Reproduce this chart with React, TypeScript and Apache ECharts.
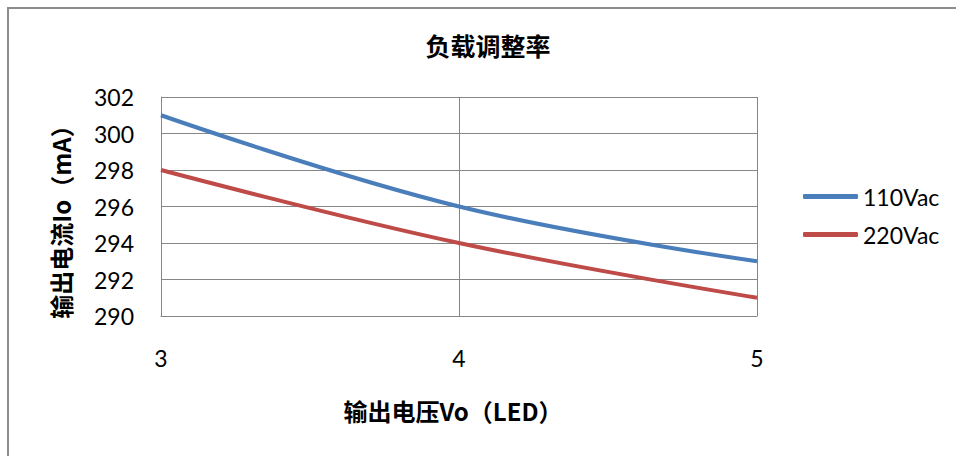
import React, { useEffect, useRef } from "react";
import * as echarts from "echarts";

const xValues = [3, 4, 5];
const seriesNames = ["110Vac", "220Vac"];
const values110 = [301, 296, 293];
const values220 = [298, 294, 291];
const colors = ["#4a7ebb", "#be4b48"];
const titleText = "负载调整率";
const xName = "输出电压Vo（LED）";
const yName = "输出电流Io（mA）";

export default function App() {
  const ref = useRef<HTMLDivElement>(null);
  useEffect(() => {
    const chart = echarts.init(ref.current!, null, { renderer: "svg" });
    const font = "Lato, 'Noto Sans CJK SC', sans-serif";
    const cjk = "'Noto Sans CJK SC', sans-serif";
    const toPairs = (ys: number[]) => xValues.map((x, i) => [x, ys[i]]);
    const lineSeries = (name: string, ys: number[], color: string) => ({
      name,
      type: "line",
      data: toPairs(ys),
      smooth: 0.4,
      showSymbol: false,
      symbol: "none",
      lineStyle: { color, width: 4 },
      itemStyle: { color },
    });
    chart.setOption({
      animation: false,
      backgroundColor: "#ffffff",
      graphic: [
        {
          type: "rect",
          shape: { x: 8, y: 8, width: 1000, height: 500 },
          style: { fill: "none", stroke: "#8c8c8c", lineWidth: 2 },
          silent: true,
        },
        {
          type: "text",
          x: 488,
          y: 45,
          style: {
            text: titleText,
            font: `bold 25px ${cjk}`,
            fill: "#000",
            align: "center",
            verticalAlign: "middle",
          },
        },
        {
          type: "text",
          x: 453,
          y: 410,
          style: {
            text: xName,
            font: `bold 24px ${cjk}`,
            fill: "#000",
            align: "center",
            verticalAlign: "middle",
          },
        },
        {
          type: "text",
          x: 60,
          y: 216,
          rotation: Math.PI / 2,
          style: {
            text: yName,
            font: `bold 24px ${cjk}`,
            fill: "#000",
            align: "center",
            verticalAlign: "middle",
          },
        },
      ],
      grid: { left: 161, top: 97, right: 199, bottom: 140, containLabel: false, show: false },
      legend: {
        orient: "vertical",
        left: 803,
        top: 185,
        padding: 0,
        itemWidth: 55,
        itemHeight: 5,
        itemGap: 15,
        icon: "roundRect",
        textStyle: { fontFamily: font, fontSize: 23, color: "#000" },
        data: seriesNames,
      },
      xAxis: {
        type: "value",
        min: 3,
        max: 5,
        interval: 1,
        axisLine: { show: true, lineStyle: { color: "#868686", width: 1 } },
        axisTick: { show: false },
        axisLabel: { margin: 30, fontFamily: font, fontSize: 23, color: "#000" },
        splitLine: { show: true, lineStyle: { color: "#868686", width: 1 } },
      },
      yAxis: {
        type: "value",
        min: 290,
        max: 302,
        interval: 2,
        axisLine: { show: true, lineStyle: { color: "#868686", width: 1 } },
        axisTick: { show: false },
        axisLabel: { margin: 27, fontFamily: font, fontSize: 23, color: "#000" },
        splitLine: { show: true, lineStyle: { color: "#868686", width: 1 } },
      },
      series: [
        lineSeries(seriesNames[0], values110, colors[0]),
        lineSeries(seriesNames[1], values220, colors[1]),
      ],
    });
    return () => chart.dispose();
  }, []);
  return (
    <div
      ref={ref}
      style={{ position: "fixed", left: 0, top: 0, width: 956, height: 456 }}
    />
  );
}
